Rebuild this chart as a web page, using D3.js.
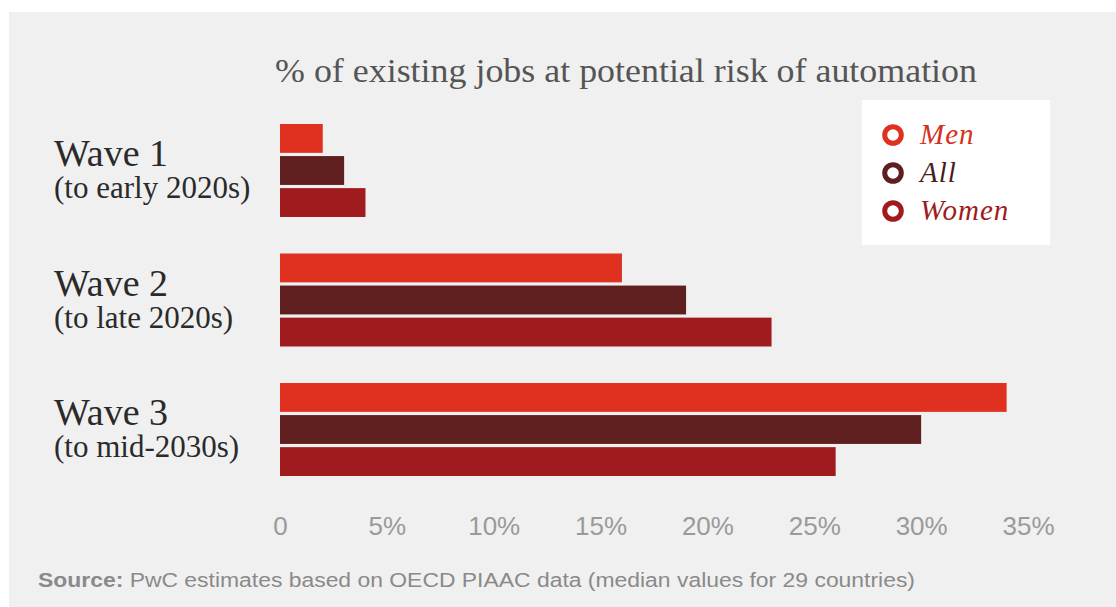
<!DOCTYPE html>
<html><head><meta charset="utf-8">
<script src="https://cdn.jsdelivr.net/npm/d3@7"></script>
<style>html,body{margin:0;padding:0;background:#fff;}svg{display:block;}</style>
</head><body>
<svg id="c" width="1116" height="607"></svg>
<script>
const waves = ["Wave 1", "Wave 2", "Wave 3"];
const waveSubs = ["(to early 2020s)", "(to late 2020s)", "(to mid-2030s)"];
const seriesNames = ["Men", "All", "Women"];
const menValues = [2, 16, 34];
const allValues = [3, 19, 30];
const womenValues = [4, 23, 26];
const tickValues = [0, 5, 10, 15, 20, 25, 30, 35];
const tickLabels = ["0", "5%", "10%", "15%", "20%", "25%", "30%", "35%"];
const colors = ["#e0301f", "#5e1f1e", "#a01b1e"];
const legendTextColors = ["#d5311f", "#4a1d1c", "#9c1c22"];

const seriesValues = [menValues, allValues, womenValues];
const rows = [];
waves.forEach((w, i) => seriesNames.forEach((s, j) => rows.push({wave: w, series: s, value: seriesValues[j][i]})));

const svg = d3.select("#c");
svg.append("rect").attr("x", 9).attr("y", 12).attr("width", 1116 - 9).attr("height", 607 - 12).attr("fill", "#f0f0f0");

const x = d3.scaleLinear().domain([0, 35]).range([280, 1028]);
const y0 = d3.scaleBand().domain(waves).range([124, 476]).paddingInner(0.282).paddingOuter(0);
const y1 = d3.scaleBand().domain(seriesNames).range([0, y0.bandwidth()]).paddingInner(0.1).paddingOuter(0);
const color = d3.scaleOrdinal().domain(seriesNames).range(colors);

// title
svg.append("text").attr("x", 275).attr("y", 82)
  .attr("font-family", "Liberation Serif, serif").attr("font-size", 34).attr("fill", "#555")
  .attr("textLength", 702).attr("lengthAdjust", "spacingAndGlyphs")
  .text("% of existing jobs at potential risk of automation");

// bars
svg.append("g").selectAll("rect").data(rows).join("rect")
  .attr("x", x(0))
  .attr("y", d => y0(d.wave) + y1(d.series))
  .attr("width", d => x(d.value) - x(0))
  .attr("height", y1.bandwidth())
  .attr("fill", d => color(d.series));

// wave labels
const lab = svg.append("g").selectAll("g").data(waves).join("g");
lab.append("text").attr("x", 54).attr("y", d => y0(d) + 42)
  .attr("font-family", "Liberation Serif, serif").attr("font-size", 38).attr("fill", "#2a2a2a")
  .text(d => d);
lab.append("text").attr("x", 54).attr("y", (d, i) => y0(d) + 74)
  .attr("font-family", "Liberation Serif, serif").attr("font-size", 31).attr("fill", "#2a2a2a")
  .text((d, i) => waveSubs[i]);

// x axis
const axis = d3.axisBottom(x).tickValues(tickValues).tickSize(0).tickPadding(0)
  .tickFormat((d, i) => tickLabels[i]);
const ax = svg.append("g").attr("transform", "translate(0,517)").call(axis);
ax.select(".domain").remove();
ax.selectAll("text").attr("font-family", "Liberation Sans, sans-serif")
  .attr("font-size", 26).attr("fill", "#9a9a9a").attr("dy", "0.71em");

// legend
const lg = svg.append("g");
lg.append("rect").attr("x", 862).attr("y", 100).attr("width", 188).attr("height", 145).attr("fill", "#ffffff");
const li = lg.selectAll("g").data(seriesNames).join("g")
  .attr("transform", (d, i) => `translate(893,${135 + i * 38})`);
li.append("circle").attr("r", 8.3).attr("fill", "none").attr("stroke", d => color(d)).attr("stroke-width", 5);
li.append("text").attr("x", 27).attr("y", 9)
  .attr("font-family", "Liberation Serif, serif").attr("font-style", "italic").attr("font-size", 29)
  .attr("letter-spacing", 1)
  .attr("fill", (d, i) => legendTextColors[i]).text(d => d);

// source
const src = svg.append("text").attr("x", 38).attr("y", 587)
  .attr("font-family", "Liberation Sans, sans-serif").attr("font-size", 20).attr("fill", "#8a8a8a")
  .attr("textLength", 877).attr("lengthAdjust", "spacingAndGlyphs");
src.append("tspan").attr("font-weight", "bold").text("Source:");
src.append("tspan").text(" PwC estimates based on OECD PIAAC data (median values for 29 countries)");
</script>
</body></html>
